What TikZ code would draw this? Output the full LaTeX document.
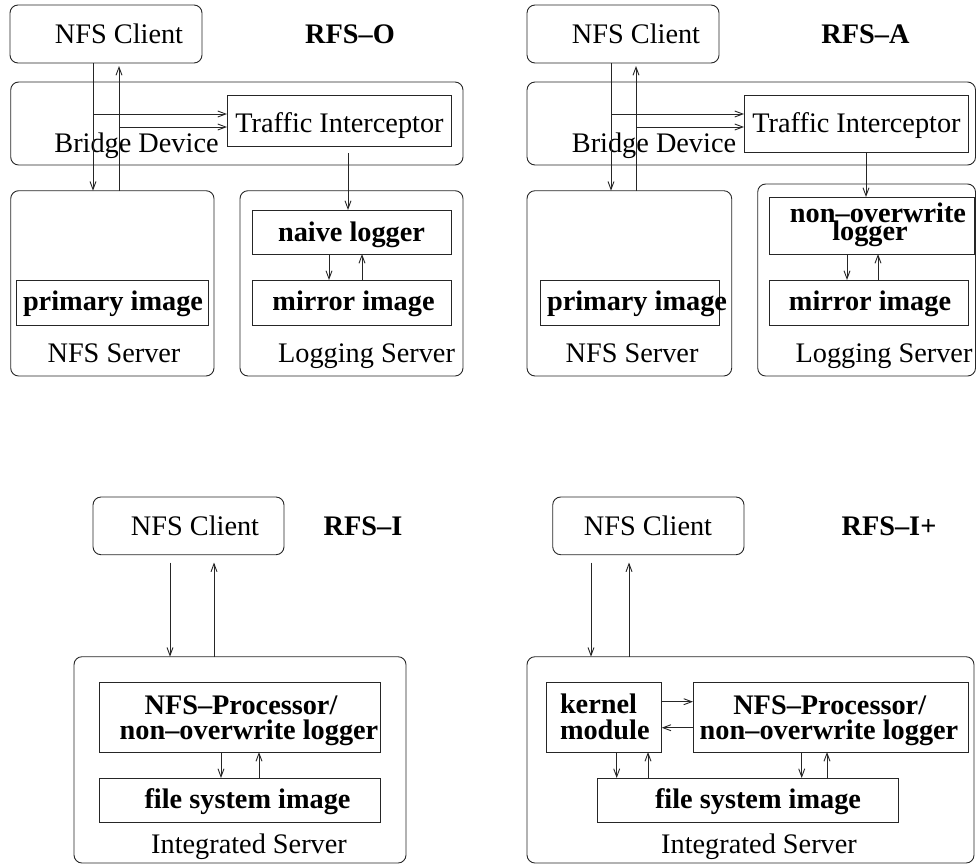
\documentclass[tikz,border=0pt]{standalone}
\usepackage{fontspec}
\setmainfont{Liberation Serif}
\usetikzlibrary{arrows.meta,fit}
\newcommand\fsz{\fontsize{28.3}{25}\selectfont}
\begin{document}
\begin{tikzpicture}[x=1pt,y=-1pt,
  line width=0.9pt,
  rbox/.style={draw=black!85, rounded corners=8pt, inner sep=0pt, outer sep=0pt},
  sbox/.style={draw=black!85, inner sep=0pt, outer sep=0pt},
  lbl/.style={anchor=base, inner sep=0pt, outer sep=0pt, font=\fsz},
  blbl/.style={anchor=base, inner sep=0pt, outer sep=0pt, font=\fsz\bfseries},
  arr/.style={draw=black!85, -{Straight Barb[length=8pt,width=6pt]}}]
\useasboundingbox (0,0) rectangle (976,865);

% ---------------- RFS-O (top left) ----------------
\node[rbox, fit={(10,5)(202,63)}] (clientTL) {};
\node[rbox, fit={(10.7,82)(463,165)}] (bridgeTL) {};
\node[sbox, fit={(227,95)(451,146)}] (tiTL) {};
\node[rbox, fit={(10.7,190.7)(214,376)}] (nfssTL) {};
\node[sbox, fit={(16.7,280)(208,325)}] (primTL) {};
\node[rbox, fit={(240,190.7)(463,376)}] (logsTL) {};
\node[sbox, fit={(252,210)(451,254)}] (naiveTL) {};
\node[sbox, fit={(252,280)(451,325)}] (mirrTL) {};

\node[lbl] (tClientTL) at (119,43) {NFS Client};
\node[blbl] (tRFSO) at (350,43) {RFS–O};
\node[lbl] (tBridgeTL) at (136.5,152) {Bridge Device};
\node[lbl] (tTITL) at (339.5,132) {Traffic Interceptor};
\node[blbl] (tPrimTL) at (113,310) {primary image};
\node[lbl] (tNfssTL) at (114,362) {NFS Server};
\node[blbl] (tNaiveTL) at (351.5,241) {naive logger};
\node[blbl] (tMirrTL) at (353.5,310) {mirror image};
\node[lbl] (tLogsTL) at (366.5,362) {Logging Server};

\draw[arr] (93,0 |- clientTL.south) -- (93,0 |- nfssTL.north);
\draw[arr] (119,0 |- nfssTL.north) -- (119,66);
\draw[arr] (93,114) -- (tiTL.west |- 0,114);
\draw[arr] (119,127) -- (tiTL.west |- 0,127);
\draw[arr] (348,153) -- (348,0 |- naiveTL.north);
\draw[arr] (329,0 |- naiveTL.south) -- (329,0 |- mirrTL.north);
\draw[arr] (362,0 |- mirrTL.north) -- (362,0 |- naiveTL.south);

% ---------------- RFS-A (top right) ----------------
\node[rbox, fit={(527,5)(719,63)}] (clientTR) {};
\node[rbox, fit={(527,82)(975.5,165)}] (bridgeTR) {};
\node[sbox, fit={(744,95)(968,152)}] (tiTR) {};
\node[rbox, fit={(527,190.7)(731.7,376)}] (nfssTR) {};
\node[sbox, fit={(540,280)(719,325)}] (primTR) {};
\node[rbox, fit={(757.7,184)(975.5,376)}] (logsTR) {};
\node[sbox, fit={(769,197)(974,254)}] (nowTR) {};
\node[sbox, fit={(769,280)(968,325)}] (mirrTR) {};

\node[lbl] (tClientTR) at (636,43) {NFS Client};
\node[blbl] (tRFSA) at (865.5,43) {RFS–A};
\node[lbl] (tBridgeTR) at (654,152) {Bridge Device};
\node[lbl] (tTITR) at (856.5,132) {Traffic Interceptor};
\node[blbl] (tPrimTR) at (637,310) {primary image};
\node[lbl] (tNfssTR) at (632,362) {NFS Server};
\node[blbl] (tNow1TR) at (878,222) {non–overwrite};
\node[blbl] (tNow2TR) at (870,240) {logger};
\node[blbl] (tMirrTR) at (870,310) {mirror image};
\node[lbl] (tLogsTR) at (884,362) {Logging Server};

\draw[arr] (611,0 |- clientTR.south) -- (611,0 |- nfssTR.north);
\draw[arr] (636,0 |- nfssTR.north) -- (636,66);
\draw[arr] (611,114) -- (tiTR.west |- 0,114);
\draw[arr] (636,127) -- (tiTR.west |- 0,127);
\draw[arr] (866,0 |- tiTR.south) -- (866,0 |- nowTR.north);
\draw[arr] (847,0 |- nowTR.south) -- (847,0 |- mirrTR.north);
\draw[arr] (878,0 |- mirrTR.north) -- (878,0 |- nowTR.south);

% ---------------- RFS-I (bottom left) ----------------
\node[rbox, fit={(93,497)(284,554.7)}] (clientBL) {};
\node[rbox, fit={(74,656.7)(406,863)}] (intBL) {};
\node[sbox, fit={(99,682)(380.7,752)}] (nfspBL) {};
\node[sbox, fit={(99,778)(380.7,822.7)}] (fsBL) {};

\node[lbl] (tClientBL) at (195,535) {NFS Client};
\node[blbl] (tRFSI) at (363,535) {RFS–I};
\node[blbl] (tNfsp1BL) at (241,714) {NFS–Processor/};
\node[blbl] (tNfsp2BL) at (249,739) {non–overwrite logger};
\node[blbl] (tFsBL) at (247.5,808) {file system image};
\node[lbl] (tIntBL) at (249,853) {Integrated Server};

\draw[arr] (170,562.5) -- (170,0 |- intBL.north);
\draw[arr] (214,0 |- intBL.north) -- (214,562.5);
\draw[arr] (221,0 |- nfspBL.south) -- (221,0 |- fsBL.north);
\draw[arr] (259,0 |- fsBL.north) -- (259,0 |- nfspBL.south);

% ---------------- RFS-I+ (bottom right) ----------------
\node[rbox, fit={(552.7,497)(744,554.7)}] (clientBR) {};
\node[rbox, fit={(527,656.7)(974,863)}] (intBR) {};
\node[sbox, fit={(546,682)(661.7,752)}] (kmBR) {};
\node[sbox, fit={(693,682)(968,752)}] (nfspBR) {};
\node[sbox, fit={(597,778)(898,822.7)}] (fsBR) {};

\node[lbl] (tClientBR) at (648,535) {NFS Client};
\node[blbl] (tRFSIp) at (889,535) {RFS–I+};
\node[blbl, anchor=base west] (tKm1BR) at (560,713) {kernel};
\node[blbl, anchor=base west] (tKm2BR) at (560,739) {module};
\node[blbl] (tNfsp1BR) at (829.7,714) {NFS–Processor/};
\node[blbl] (tNfsp2BR) at (829,739) {non–overwrite logger};
\node[blbl] (tFsBR) at (758,808) {file system image};
\node[lbl] (tIntBR) at (759,853) {Integrated Server};

\draw[arr] (591,562.5) -- (591,0 |- intBR.north);
\draw[arr] (629,0 |- intBR.north) -- (629,562.5);
\draw[arr] (kmBR.east |- 0,701.7) -- (nfspBR.west |- 0,701.7);
\draw[arr] (nfspBR.west |- 0,727.7) -- (kmBR.east |- 0,727.7);
\draw[arr] (616.7,0 |- kmBR.south) -- (616.7,0 |- fsBR.north);
\draw[arr] (648,0 |- fsBR.north) -- (648,0 |- kmBR.south);
\draw[arr] (801.7,0 |- nfspBR.south) -- (801.7,0 |- fsBR.north);
\draw[arr] (827,0 |- fsBR.north) -- (827,0 |- nfspBR.south);
\end{tikzpicture}
\end{document}
